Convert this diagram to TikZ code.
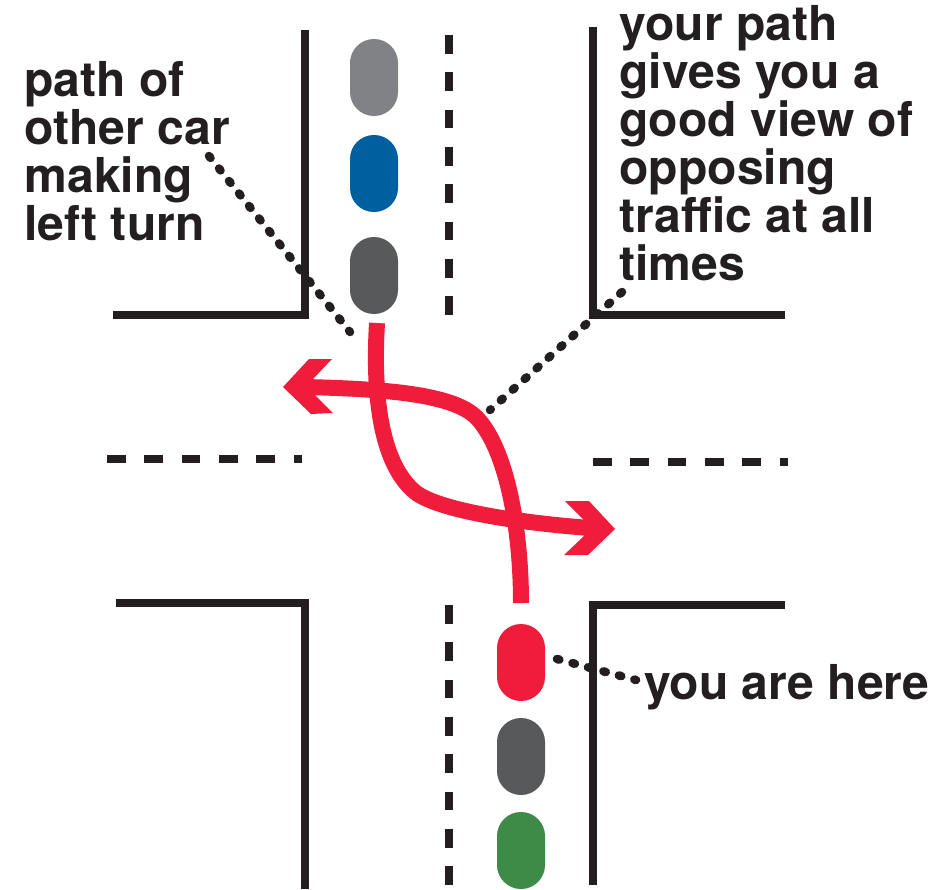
\documentclass[tikz,border=0pt]{standalone}
\usepackage{fontspec}
\setmainfont{TeX Gyre Heros}
\definecolor{ink}{HTML}{231F20}
\definecolor{redc}{HTML}{EF1C3C}
\definecolor{lgray}{HTML}{808285}
\definecolor{dgray}{HTML}{58595B}
\definecolor{bluec}{HTML}{005F9E}
\definecolor{greenc}{HTML}{3D8B46}
\tikzset{
  car/.style={minimum width=48pt,minimum height=77pt,rounded corners=23.9pt,inner sep=0pt,outer sep=0pt},
  road/.style={draw=ink,line width=8pt,miter limit=10},
  centerv/.style={draw=ink,line width=8pt,dash pattern=on 18.7pt off 18.6pt},
  dotline/.style={draw=ink,line width=8.5pt,line cap=round,dash pattern=on 2.5pt off 13.5pt},
  redpath/.style={draw=redc,line width=16pt},
  headred/.style={fill=redc},
  lab/.style={font=\fontsize{48.1}{48}\selectfont\bfseries,text=ink,align=left,inner sep=0pt,outer sep=0pt}
}
\begin{document}
\begin{tikzpicture}[x=1pt,y=-1pt]
\useasboundingbox (0,0) rectangle (947,889);
% roads
\draw[road] (113,315) -- (305,315) -- (305,30);
\draw[road] (785,315) -- (593,315) -- (593,27);
\draw[road] (116,603) -- (305,603) -- (305,889);
\draw[road] (785,605) -- (593,605) -- (593,885);
% centre lines
\draw[centerv] (449,35) -- (449,315);
\draw[centerv] (449,605) -- (449,885);
\draw[centerv] (107,459) -- (302,459);
\draw[centerv] (593,462) -- (788,462);
% cars
\node[car,fill=lgray] (c1) at (374,77.5) {};
\node[car,fill=bluec] (c2) at (374,173.5) {};
\node[car,fill=dgray] (c3) at (374,275.5) {};
\node[car,fill=redc] (c4) at (521,662.5) {};
\node[car,fill=dgray] (c5) at (521,756.5) {};
\node[car,fill=greenc] (c6) at (521,850.5) {};
% labels
\node[lab,anchor=base west] (l1) at (24.5,96) {path of};
\node[lab,anchor=base west] (l2) at (24.5,144) {other car};
\node[lab,anchor=base west] (l3) at (24.5,192) {making};
\node[lab,anchor=base west] (l4) at (24.5,240) {left turn};
\node[lab,anchor=base west] (r1) at (619.5,40) {your path};
\node[lab,anchor=base west] (r2) at (619.5,88) {gives you a};
\node[lab,anchor=base west] (r3) at (619.5,136) {good view of};
\node[lab,anchor=base west] (r4) at (619.5,184) {opposing};
\node[lab,anchor=base west] (r5) at (619.5,232) {traffic at all};
\node[lab,anchor=base west] (r6) at (619.5,280) {times};
\node[lab,anchor=base west] (h1) at (644,699) {you are here};
% coordinates
\coordinate (d1a) at (209,156);
\coordinate (d1b) at (350,332);
\coordinate (d2a) at (622,292);
\coordinate (d2b) at (490,410);
\coordinate (d3a) at (557,659);
\coordinate (d3b) at (636,680);
\draw[dotline] (d1a) -- (d1b);
\draw[dotline] (d2a) -- (d2b);
\draw[dotline] (d3a) -- (d3b);
% red paths
\coordinate (p1s) at (377,323);
\coordinate (p1e) at (590,528);
\coordinate (p2s) at (521,603);
\coordinate (p2e) at (306,387);
\draw[redpath] (p1s) .. controls (373,390) and (379,462) .. (415,492)
  .. controls (436,509) and (510,522) .. (p1e);
\draw[redpath] (p2s) .. controls (521,530) and (507,450) .. (477,418)
  .. controls (453,393) and (380,389) .. (p2e);
\fill[headred] (565,501) -- (589,501) -- (615,529) -- (588,555) -- (564,555) -- (584,536) -- (584,520) -- cycle;
\fill[headred] (309,359) -- (332,359) -- (313,379) -- (315,395) -- (333,413) -- (311,414) -- (283,387) -- cycle;
\end{tikzpicture}
\end{document}
